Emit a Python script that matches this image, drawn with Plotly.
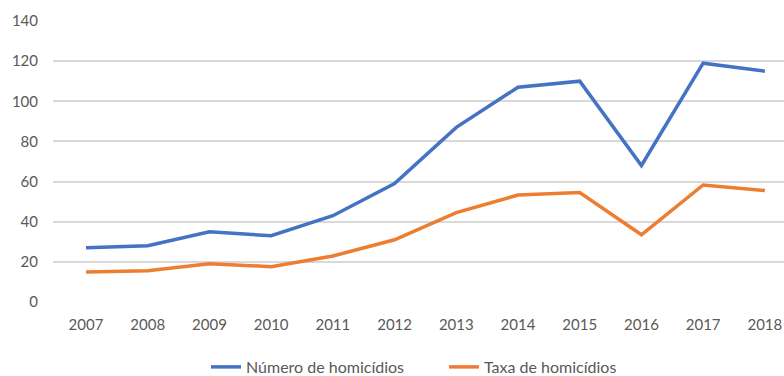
import plotly.graph_objects as go

anos = [2007, 2008, 2009, 2010, 2011, 2012, 2013, 2014, 2015, 2016, 2017, 2018]
numero_homicidios = [27, 28, 35, 33, 43, 59, 87, 107, 110, 68, 119, 115]
taxa_homicidios = [15, 15.6, 19.1, 17.6, 22.9, 31, 44.5, 53.3, 54.5, 33.5, 58.3, 55.5]

fig = go.Figure()
fig.add_trace(go.Scatter(x=anos, y=numero_homicidios, mode="lines",
                         name="Número de homicídios",
                         line=dict(color="#4472C4", width=3.5)))
fig.add_trace(go.Scatter(x=anos, y=taxa_homicidios, mode="lines",
                         name="Taxa de homicídios",
                         line=dict(color="#ED7D31", width=3.5)))

fig.update_layout(
    width=784, height=376,
    margin=dict(l=53, r=0, t=21, b=74),
    paper_bgcolor="white", plot_bgcolor="white",
    font=dict(family="Lato, Open Sans, sans-serif", size=15, color="#595959"),
    showlegend=True,
    legend=dict(orientation="h", xref="container", yref="container",
                x=206 / 784, xanchor="left", y=9 / 376, yanchor="middle",
                entrywidth=193, entrywidthmode="pixels",
                font=dict(size=16, color="#595959"), bgcolor="rgba(0,0,0,0)"),
    xaxis=dict(range=[2006.465, 2018.31], tickmode="array", tickvals=anos,
               ticktext=[str(a) for a in anos], showgrid=False, zeroline=False,
               showline=False, ticks="", ticklabelstandoff=12),
    yaxis=dict(range=[0, 140], dtick=20, showgrid=True, gridcolor="#D9D9D9", gridwidth=1.5,
               zeroline=False, showline=False, ticks="", ticklabelstandoff=14),
)

fig.write_html("out.html", config={"displayModeBar": False},
               post_script="document.body.style.margin='0';document.body.style.overflow='hidden';")
